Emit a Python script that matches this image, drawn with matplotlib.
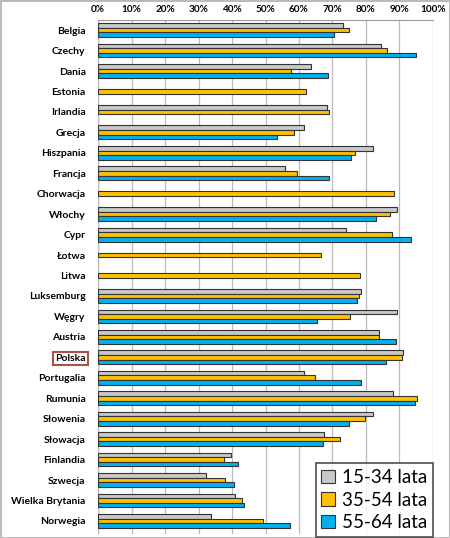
import matplotlib
matplotlib.use("Agg")
import matplotlib.pyplot as plt
import numpy as np

countries = ["Belgia", "Czechy", "Dania", "Estonia", "Irlandia", "Grecja", "Hiszpania",
             "Francja", "Chorwacja", "Włochy", "Cypr", "Łotwa", "Litwa", "Luksemburg",
             "Węgry", "Austria", "Polska", "Portugalia", "Rumunia", "Słowenia",
             "Słowacja", "Finlandia", "Szwecja", "Wielka Brytania", "Norwegia"]
age_15_34 = [73.2, 84.4, 63.5, np.nan, 68.4, 61.6, 82.1, 55.8, np.nan, 89.3, 74.1, np.nan,
             np.nan, 78.6, 89.3, 84.0, 91.1, 61.6, 88.2, 82.2, 67.5, 39.7, 32.3, 40.9, 33.6]
age_35_54 = [75.0, 86.4, 57.6, 62.2, 69.0, 58.5, 76.8, 59.5, 88.3, 87.2, 87.7, 66.7,
             78.3, 77.8, 75.2, 84.0, 90.8, 64.7, 95.2, 79.8, 72.3, 37.6, 38.0, 42.9, 49.3]
age_55_64 = [70.6, 94.9, 68.7, np.nan, np.nan, 53.5, 75.4, 69.0, np.nan, 83.1, 93.5, np.nan,
             np.nan, 77.4, 65.5, 89.0, 86.0, 78.6, 94.6, 74.8, 67.2, 41.7, 40.6, 43.6, 57.4]
series_labels = ["15-34 lata", "35-54 lata", "55-64 lata"]
colors = ["#C8C8C8", "#FFC000", "#00B0F0"]
tick_values = list(range(0, 101, 10))
tick_labels = [f"{v}%" for v in tick_values]

plt.rcParams['font.family'] = ['Lato', 'DejaVu Sans']

fig = plt.figure(figsize=(4.5, 5.38), dpi=100)
fig.patch.set_edgecolor("#BBBBBB")
fig.patch.set_linewidth(2)
ax = fig.add_axes([0.218, 0.007, 0.744, 0.956])

y = np.arange(len(countries))
h = 0.225
for i, (vals, lab, c) in enumerate(zip([age_15_34, age_35_54, age_55_64], series_labels, colors)):
    ax.barh(y + (i - 1) * h, vals, height=h, color=c, edgecolor="#333333",
            linewidth=0.8, label=lab, zorder=3)

ax.set_xlim(0, 100)
ax.set_ylim(len(countries) - 0.35, -0.5)
ax.set_xticks(tick_values)
ax.set_xticklabels(tick_labels, fontsize=7.2, fontweight="bold")
ax.xaxis.tick_top()
ax.tick_params(axis="x", length=0, pad=4)
ax.set_yticks(y)
ax.set_yticklabels(countries, fontsize=7.5, fontweight="bold")
ax.tick_params(axis="y", length=0, pad=9)
ax.grid(axis="x", color="#BBBBBB", linewidth=0.9, zorder=0)
for s in ["right", "bottom", "left"]:
    ax.spines[s].set_visible(False)
ax.spines["top"].set_color("#999999")
ax.axvline(0, color="#999999", linewidth=0.9, zorder=1)

for t in ax.get_yticklabels():
    if t.get_text() == "Polska":
        t.set_bbox(dict(facecolor="white", edgecolor="#B0504D", linewidth=1.5, pad=1.5))

leg = ax.legend(loc="lower right", bbox_to_anchor=(1.0, -0.005), fontsize=13.5,
                frameon=True, fancybox=False, edgecolor="#222222",
                handlelength=0.7, handleheight=0.7, handletextpad=0.4,
                labelspacing=0.3, borderpad=0.3, borderaxespad=0)
leg.get_frame().set_linewidth(1.2)
leg.set_zorder(5)

fig.savefig("out.png", dpi=100)
